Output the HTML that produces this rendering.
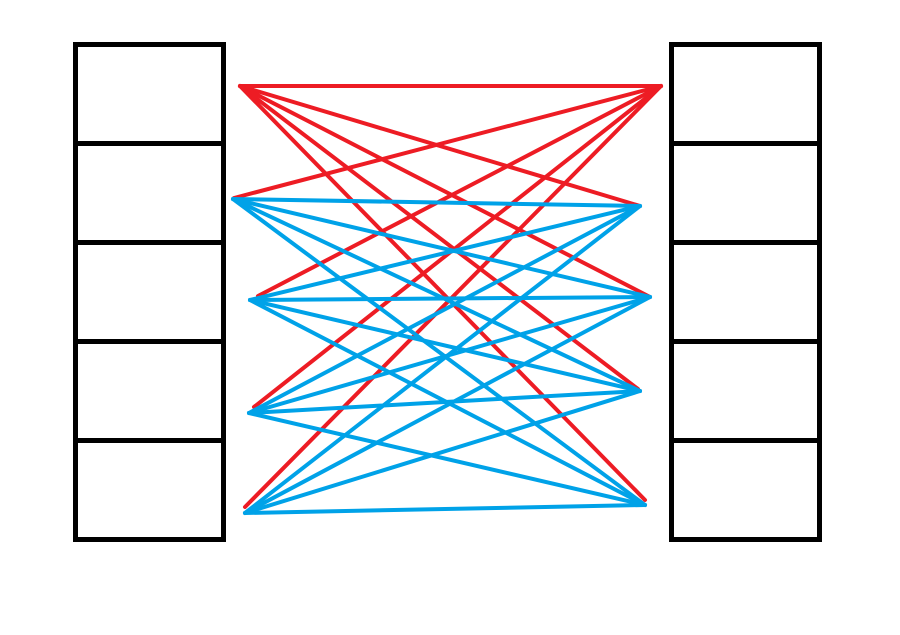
<!DOCTYPE html>
<html><head><style>html,body{margin:0;padding:0;background:#fff}</style></head>
<body>
<svg width="900" height="630" viewBox="0 0 900 630" xmlns="http://www.w3.org/2000/svg">
<g fill="none" stroke="#000" stroke-width="5">
<rect x="75.5" y="44.5" width="148" height="495"/>
<line x1="75" y1="143.5" x2="224" y2="143.5"/>
<line x1="75" y1="242.5" x2="224" y2="242.5"/>
<line x1="75" y1="341.5" x2="224" y2="341.5"/>
<line x1="75" y1="440.5" x2="224" y2="440.5"/>
<rect x="671.5" y="44.5" width="148" height="495"/>
<line x1="671" y1="143.5" x2="820" y2="143.5"/>
<line x1="671" y1="242.5" x2="820" y2="242.5"/>
<line x1="671" y1="341.5" x2="820" y2="341.5"/>
<line x1="671" y1="440.5" x2="820" y2="440.5"/>
</g>
<g stroke="#ed1c24" stroke-width="4" stroke-linecap="round">
<line x1="240" y1="86" x2="661" y2="86"/>
<line x1="240" y1="86" x2="640" y2="206"/>
<line x1="240" y1="86" x2="650" y2="297"/>
<line x1="240" y1="86" x2="638" y2="389"/>
<line x1="240" y1="86" x2="645" y2="500"/>
<line x1="661" y1="86" x2="234" y2="198"/>
<line x1="661" y1="86" x2="258" y2="296"/>
<line x1="661" y1="86" x2="254" y2="407"/>
<line x1="661" y1="86" x2="245" y2="507"/>
</g>
<g stroke="#00a2e8" stroke-width="4" stroke-linecap="round">
<line x1="233" y1="199" x2="640" y2="206"/>
<line x1="233" y1="199" x2="650" y2="297"/>
<line x1="233" y1="199" x2="640" y2="391"/>
<line x1="233" y1="199" x2="645" y2="505"/>
<line x1="250" y1="300" x2="640" y2="206"/>
<line x1="250" y1="300" x2="650" y2="297"/>
<line x1="250" y1="300" x2="640" y2="391"/>
<line x1="250" y1="300" x2="645" y2="505"/>
<line x1="249" y1="413" x2="640" y2="206"/>
<line x1="249" y1="413" x2="650" y2="297"/>
<line x1="249" y1="413" x2="640" y2="391"/>
<line x1="249" y1="413" x2="645" y2="505"/>
<line x1="245" y1="513" x2="640" y2="206"/>
<line x1="245" y1="513" x2="650" y2="297"/>
<line x1="245" y1="513" x2="640" y2="391"/>
<line x1="245" y1="513" x2="645" y2="505"/>
</g>
</svg>
</body></html>
